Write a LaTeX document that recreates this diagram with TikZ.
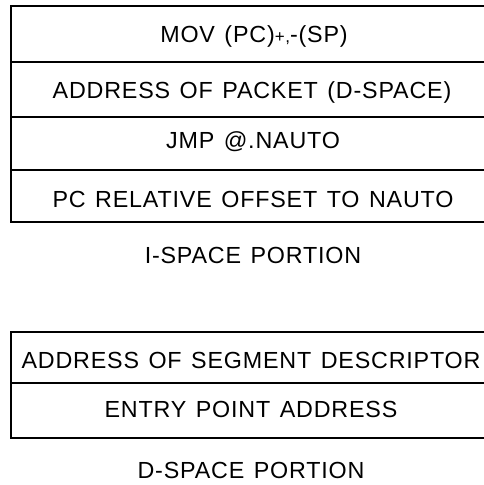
\documentclass[tikz,border=0pt]{standalone}
\usepackage{fontspec}
\setmainfont{Liberation Sans}[LetterSpace=3.5,WordSpace=1.3]
\begin{document}
\begin{tikzpicture}[x=1pt,y=-1pt,
  rule/.style={line width=1.5pt,line cap=rect},
  lbl/.style={anchor=base,inner sep=0pt,font=\fontsize{23.3}{26}\selectfont}]
\useasboundingbox (0,0) rectangle (484,485);
% I-space portion
\coordinate (a0) at (11,6);
\coordinate (a4) at (11,222);
\draw[rule] (a0) -- (484,6);
\draw[rule] (11,62) -- (484,62);
\draw[rule] (11,117) -- (484,117);
\draw[rule] (11,170) -- (484,170);
\draw[rule] (a4) -- (484,222);
\draw[rule] (a0) -- (a4);
\node[lbl] (t1) at (254,42) {MOV (PC){\fontsize{17}{17}\selectfont +,}-(SP)};
\node[lbl] (t2) at (252,98) {ADDRESS OF PACKET (D-SPACE)};
\node[lbl] (t3) at (253,148) {JMP @.NAUTO};
\node[lbl] (t4) at (253,207) {PC RELATIVE OFFSET TO NAUTO};
\node[lbl] (ls) at (253,263) {I-SPACE PORTION};
% D-space portion
\coordinate (b0) at (11,332);
\coordinate (b2) at (11,438);
\draw[rule] (b0) -- (484,332);
\draw[rule] (11,383) -- (484,383);
\draw[rule] (b2) -- (484,438);
\draw[rule] (b0) -- (b2);
\node[lbl] (d1) at (251,368) {ADDRESS OF SEGMENT DESCRIPTOR};
\node[lbl] (d2) at (251,417) {ENTRY POINT ADDRESS};
\node[lbl] (ld) at (251,478) {D-SPACE PORTION};
\end{tikzpicture}
\end{document}
